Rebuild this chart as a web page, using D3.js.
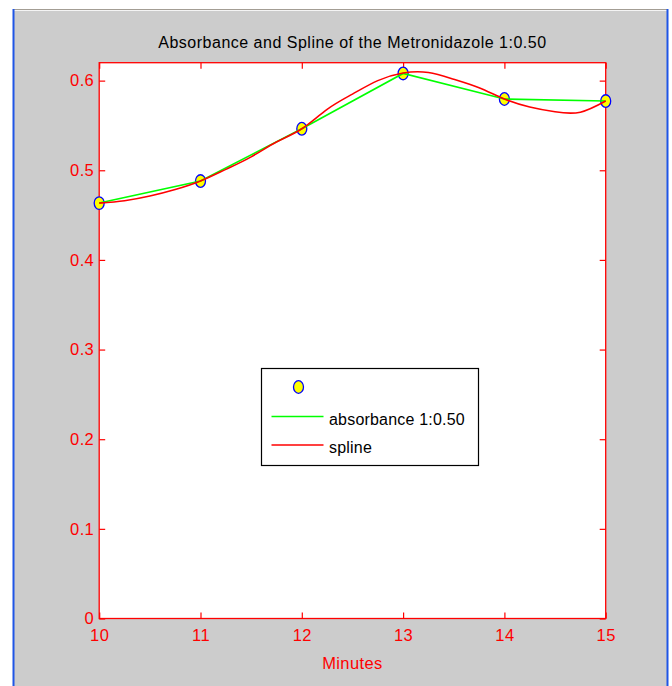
<!DOCTYPE html>
<html>
<head>
<meta charset="utf-8">
<script src="https://cdn.jsdelivr.net/npm/d3@7"></script>
<style>
  html, body { margin: 0; padding: 0; background: #fff; }
  svg { display: block; font-family: "Liberation Sans", Arial, sans-serif; }
</style>
</head>
<body>
<svg id="chart" width="672" height="686"></svg>
<script>
// ── DATA ────────────────────────────────────────────────────────────────
const minutes = [10, 11, 12, 13, 14, 15];
const absorbance = [0.4634, 0.4880, 0.5463, 0.6080, 0.5795, 0.5772];

// spline curve (every quarter minute)
const splineX = [10, 10.25, 10.5, 10.75, 11, 11.25, 11.5, 11.75, 12, 12.25, 12.5,
                 12.75, 13, 13.25, 13.5, 13.75, 14, 14.25, 14.5, 14.75, 15];
const splineY = [0.4634, 0.4660, 0.4712, 0.4785, 0.4880, 0.5010, 0.5150, 0.5315, 0.5463, 0.5680, 0.5850,
                 0.6000, 0.6085, 0.6090, 0.6015, 0.5920, 0.5795, 0.5705, 0.5652, 0.5648, 0.5772];

const xTicks = [10, 11, 12, 13, 14, 15];
const xTickLabels = ['10', '11', '12', '13', '14', '15'];
const yTicks = [0, 0.1, 0.2, 0.3, 0.4, 0.5, 0.6];
const yTickLabels = ['0', '0.1', '0.2', '0.3', '0.4', '0.5', '0.6'];

const title = 'Absorbance and Spline of the Metronidazole 1:0.50';
const xLabel = 'Minutes';
const legendLabels = ['', 'absorbance 1:0.50', 'spline'];

// ── LAYOUT ──────────────────────────────────────────────────────────────
const svg = d3.select('#chart');
const plot = { left: 99.2, right: 605.7, top: 62.7, bottom: 618.5 };
const RED = '#ff0000', GREEN = '#00ff00', BLUE = '#0000ff', YELLOW = '#ffff00';

const x = d3.scaleLinear().domain([10, 15]).range([plot.left, plot.right]);
const y = d3.scaleLinear().domain([0, 0.62]).range([plot.bottom, plot.top]);

// figure window frame
svg.append('rect').attr('x', 14).attr('y', 11).attr('width', 653).attr('height', 675).attr('fill', '#cccccc');
svg.append('line').attr('x1', 14).attr('x2', 667).attr('y1', 9.5).attr('y2', 9.5).attr('stroke', '#a39d94');
svg.append('line').attr('x1', 14).attr('x2', 667).attr('y1', 10.5).attr('y2', 10.5).attr('stroke', '#f4f4f4');
svg.append('line').attr('x1', 13.5).attr('x2', 13.5).attr('y1', 9).attr('y2', 686).attr('stroke', '#1f55e6').attr('stroke-width', 2);
svg.append('line').attr('x1', 667.5).attr('x2', 667.5).attr('y1', 9).attr('y2', 686).attr('stroke', '#1f55e6').attr('stroke-width', 2);

// plot background
svg.append('rect')
  .attr('x', plot.left).attr('y', plot.top)
  .attr('width', plot.right - plot.left).attr('height', plot.bottom - plot.top)
  .attr('fill', '#fff');

// ── AXES (ticks point inward, box on) ───────────────────────────────────
const styleAxis = (g) => {
  g.select('.domain').remove();
  g.selectAll('.tick line').attr('stroke', RED).attr('stroke-width', 1.2);
  g.selectAll('.tick text')
    .attr('fill', RED).attr('font-size', 16.5).attr('letter-spacing', 0.4)
    .attr('font-family', '"Liberation Sans", Arial, sans-serif');
};

svg.append('g').attr('transform', `translate(${plot.left},0)`)
  .call(d3.axisLeft(y).tickValues(yTicks).tickFormat((d, i) => yTickLabels[i]).tickSize(-6).tickPadding(5))
  .call(styleAxis);
svg.append('g').attr('transform', `translate(${plot.right},0)`)
  .call(d3.axisRight(y).tickValues(yTicks).tickFormat('').tickSize(-6))
  .call(styleAxis);
svg.append('g').attr('transform', `translate(0,${plot.bottom})`)
  .call(d3.axisBottom(x).tickValues(xTicks).tickFormat((d, i) => xTickLabels[i]).tickSize(-6).tickPadding(11))
  .call(styleAxis);
svg.append('g').attr('transform', `translate(0,${plot.top})`)
  .call(d3.axisTop(x).tickValues(xTicks).tickFormat('').tickSize(-6))
  .call(styleAxis);

svg.append('rect')
  .attr('x', plot.left).attr('y', plot.top)
  .attr('width', plot.right - plot.left).attr('height', plot.bottom - plot.top)
  .attr('fill', 'none').attr('stroke', RED).attr('stroke-width', 1.3);

// ── SERIES ──────────────────────────────────────────────────────────────
svg.append('g').selectAll('ellipse')
  .data(minutes)
  .join('ellipse')
  .attr('cx', d => x(d))
  .attr('cy', (d, i) => y(absorbance[i]))
  .attr('rx', 5).attr('ry', 6.3)
  .attr('fill', YELLOW).attr('stroke', BLUE).attr('stroke-width', 1.3);

const absLine = d3.line().x(d => x(d)).y((d, i) => y(absorbance[i]));
svg.append('path').attr('d', absLine(minutes))
  .attr('fill', 'none').attr('stroke', GREEN).attr('stroke-width', 1.6);

const splineLine = d3.line().x(d => x(d)).y((d, i) => y(splineY[i])).curve(d3.curveNatural);
svg.append('path').attr('d', splineLine(splineX))
  .attr('fill', 'none').attr('stroke', RED).attr('stroke-width', 1.6);

// ── TEXT ────────────────────────────────────────────────────────────────
svg.append('text')
  .attr('x', (plot.left + plot.right) / 2).attr('y', 48)
  .attr('text-anchor', 'middle').attr('font-size', 16).attr('letter-spacing', 0.5)
  .attr('fill', '#000').text(title);

svg.append('text')
  .attr('x', (plot.left + plot.right) / 2).attr('y', 669)
  .attr('text-anchor', 'middle').attr('font-size', 16.5).attr('letter-spacing', 0.4)
  .attr('fill', RED).text(xLabel);

// ── LEGEND ──────────────────────────────────────────────────────────────
const legend = svg.append('g').attr('transform', 'translate(261.5,368.5)');
legend.append('rect').attr('width', 217).attr('height', 97)
  .attr('fill', '#fff').attr('stroke', '#000').attr('stroke-width', 1.2);

legend.append('ellipse').attr('cx', 37).attr('cy', 18.5)
  .attr('rx', 5).attr('ry', 6.3)
  .attr('fill', YELLOW).attr('stroke', BLUE).attr('stroke-width', 1.3);

const legendRows = [
  { color: GREEN, ly: 48, label: legendLabels[1] },
  { color: RED, ly: 76.5, label: legendLabels[2] }
];
legendRows.forEach(r => {
  legend.append('line').attr('x1', 10).attr('x2', 62).attr('y1', r.ly).attr('y2', r.ly)
    .attr('stroke', r.color).attr('stroke-width', 1.6);
  legend.append('text').attr('x', 67.5).attr('y', r.ly + 8)
    .attr('font-size', 16).attr('letter-spacing', 0.2).attr('fill', '#000').text(r.label);
});
</script>
</body>
</html>
